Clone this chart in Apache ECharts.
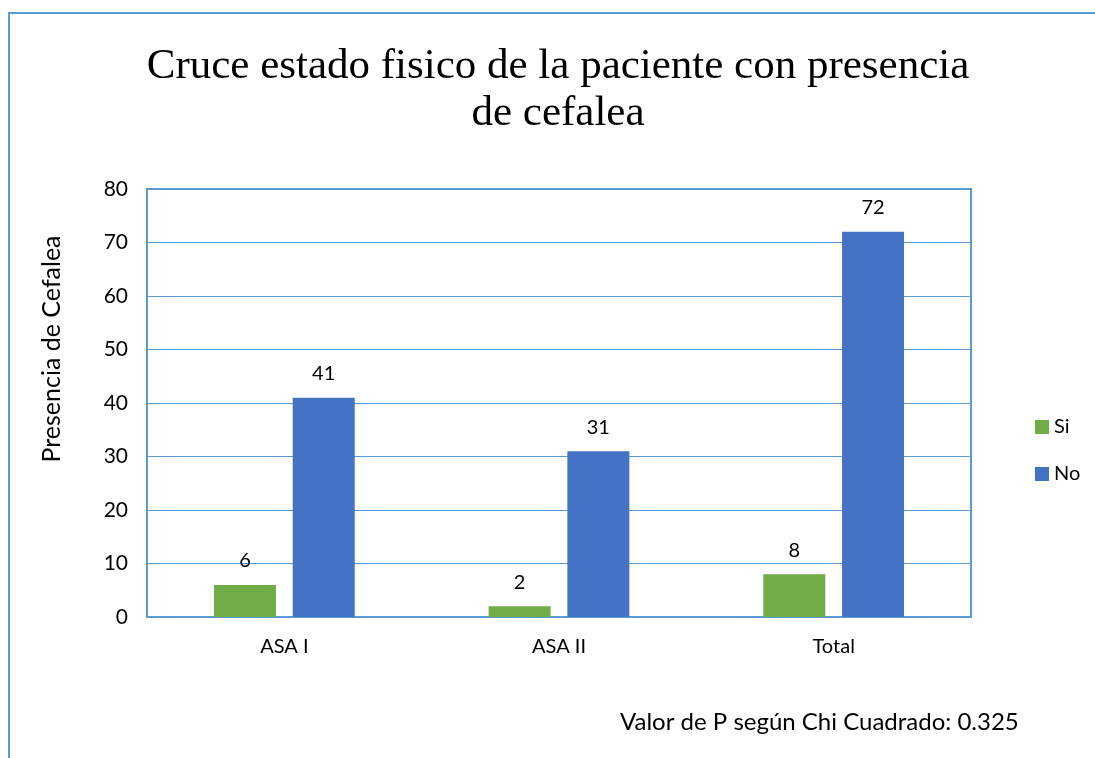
<!DOCTYPE html>
<html>
<head>
<meta charset="utf-8">
<script src="https://cdn.jsdelivr.net/npm/echarts@6/dist/echarts.min.js"></script>
<style>
  html, body { margin: 0; padding: 0; background: #fff; }
  #main { width: 1095px; height: 758px; }
</style>
</head>
<body>
<div id="main"></div>
<script>
// datos del grafico
var categorias = ['ASA I', 'ASA II', 'Total'];
var serieSi = [6, 2, 8];
var serieNo = [41, 31, 72];
var nombresSeries = ['Si', 'No'];

var myChart = echarts.init(document.getElementById('main'));
var fuente = 'Lato, "Open Sans", sans-serif';

var option = {
    animation: false,
    legend: {
        orient: 'vertical',
        left: 1030,
        top: 412,
        itemWidth: 14,
        itemHeight: 14,
        itemGap: 27,
        icon: 'rect',
        data: nombresSeries,
        textStyle: { fontFamily: fuente, fontSize: 20, color: '#000' }
    },
    graphic: [
        {
            type: 'rect',
            shape: { x: 9, y: 13, width: 1200, height: 1000 },
            style: { fill: 'none', stroke: '#5b9bd5', lineWidth: 2 }
        },
        {
            // titulo (un poco a la derecha del centro, como en el original)
            type: 'text',
            x: 558,
            y: 43,
            style: {
                text: 'Cruce estado fisico de la paciente con presencia\nde cefalea',
                fontFamily: '"Liberation Serif", "Times New Roman", serif',
                fontSize: 43,
                lineHeight: 47,
                fill: '#000',
                align: 'center',
                verticalAlign: 'top'
            }
        },
        {
            // titulo del eje y
            type: 'text',
            x: 52,
            y: 349,
            rotation: Math.PI / 2,
            style: {
                text: 'Presencia de Cefalea',
                fontFamily: fuente,
                fontSize: 25,
                fill: '#000',
                align: 'center',
                verticalAlign: 'middle'
            }
        },
        {
            type: 'text',
            left: 620,
            top: 710,
            style: {
                text: 'Valor de P según Chi Cuadrado: 0.325',
                fontFamily: fuente,
                fontSize: 24,
                fill: '#000'
            }
        }
    ],
    grid: {
        left: 147,
        top: 189,
        right: 124,
        bottom: 141,
        show: true,
        borderColor: '#5b9bd5',
        borderWidth: 2
    },
    xAxis: {
        type: 'category',
        data: categorias,
        axisLine: { lineStyle: { color: '#5b9bd5', width: 2 } },
        axisTick: { show: false },
        axisLabel: { fontFamily: fuente, fontSize: 20, color: '#000', margin: 20 }
    },
    yAxis: {
        type: 'value',
        min: 0,
        max: 80,
        interval: 10,
        axisLine: { show: false },
        axisTick: { show: false },
        axisLabel: { fontFamily: fuente, fontSize: 21, color: '#000', margin: 19 },
        splitLine: { lineStyle: { color: '#5b9bd5', width: 1 } }
    },
    series: [
        {
            name: 'Si',
            type: 'bar',
            data: serieSi,
            barWidth: 62,
            barGap: '27%',
            itemStyle: { color: '#70ad47' },
            label: { show: true, position: 'top', distance: 14, fontFamily: fuente, fontSize: 20, color: '#000' }
        },
        {
            name: 'No',
            type: 'bar',
            data: serieNo,
            barWidth: 62,
            itemStyle: { color: '#4472c4' },
            label: { show: true, position: 'top', distance: 14, fontFamily: fuente, fontSize: 20, color: '#000' }
        }
    ]
};

myChart.setOption(option);
</script>
</body>
</html>
